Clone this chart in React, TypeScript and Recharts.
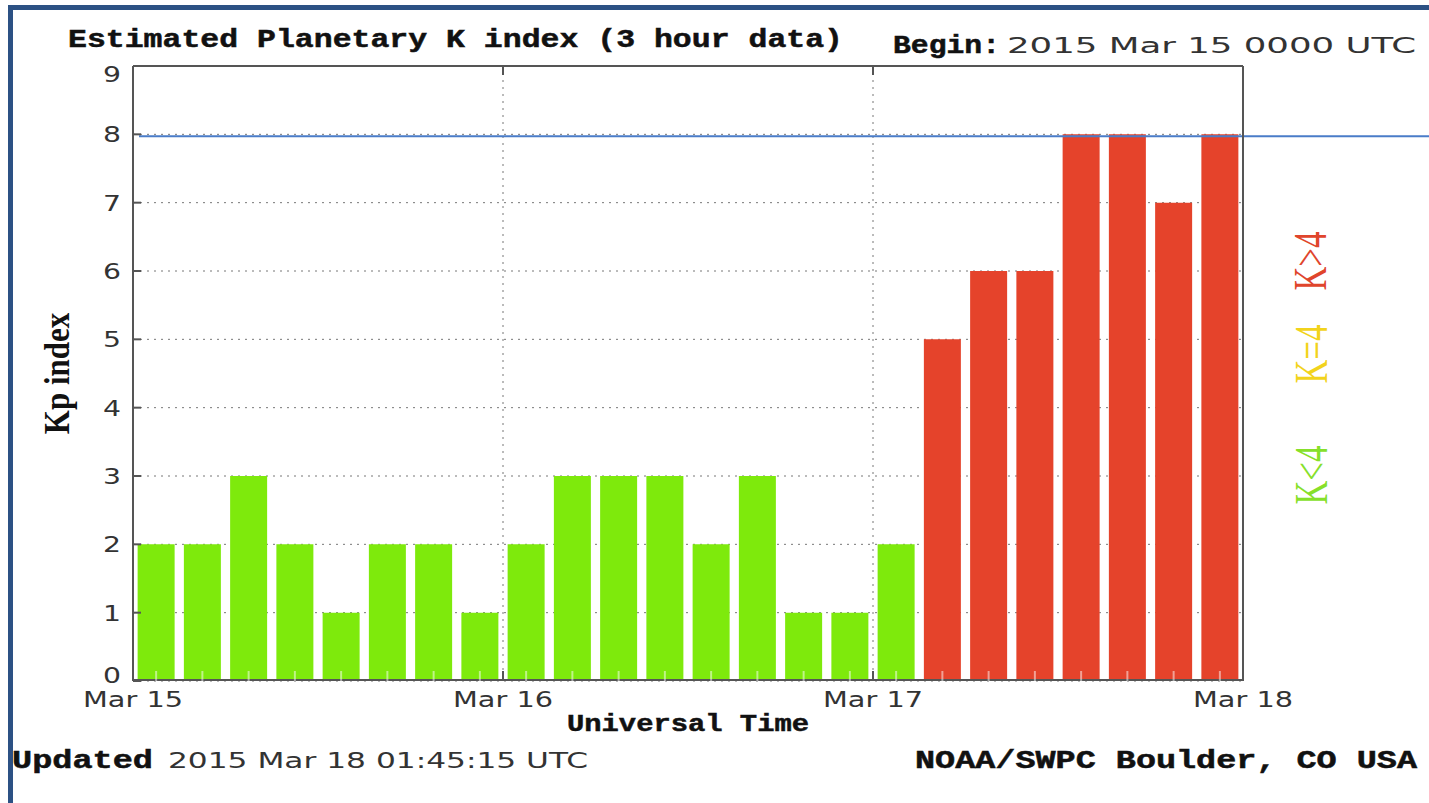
import React from 'react';
import { BarChart, Bar, Cell, XAxis, YAxis, CartesianGrid, ReferenceLine } from 'recharts';

const CHART_W = 1429;
const CHART_H = 803;

// 3-hour slots, 2015 Mar 15 00 UTC .. Mar 17 21 UTC
const slots = [
    '15/00', '15/03', '15/06', '15/09', '15/12', '15/15', '15/18', '15/21',
    '16/00', '16/03', '16/06', '16/09', '16/12', '16/15', '16/18', '16/21',
    '17/00', '17/03', '17/06', '17/09', '17/12', '17/15', '17/18', '17/21',
];
const kpValues = [2, 2, 3, 2, 1, 2, 2, 1, 2, 3, 3, 3, 2, 3, 1, 1, 2, 5, 6, 6, 8, 8, 7, 8];
const dayHours = [0, 24, 48, 72];
const dayLabels = ['Mar 15', 'Mar 16', 'Mar 17', 'Mar 18'];
const kpTicks = [0, 1, 2, 3, 4, 5, 6, 7, 8, 9];
const stormLevel = 8;

const GREEN = '#7EEA0C';
const YELLOW = '#F2D31C';
const RED = '#E5432B';
const AXIS = '#555';
const MONO = "'Liberation Mono', 'DejaVu Sans Mono', monospace";
const SANS = "'DejaVu Sans', sans-serif";
const SERIF = "'Liberation Serif', 'DejaVu Serif', serif";

// inward tick lengths (axes are mirrored so the ticks point into the frame)
const Y_TICK = 8;
const X_TICK = 9;
const MINOR_TICK = 10;

const data = slots.map((slot, i) => ({ slot, hour: i * 3, kp: kpValues[i] }));

const kpColor = (v: number) => (v > 4 ? RED : v === 4 ? YELLOW : GREEN);

// tick marks are drawn by the tick components themselves
const KpTick = ({ x, y, payload }: any) => {
    const v = payload.value;
    // end labels are pulled inside the frame
    const nudge = v === 9 ? 8 : v === 0 ? -6 : 0;
    return (
        <g>
            <line x1={x - Y_TICK} x2={x} y1={y} y2={y} stroke={AXIS} strokeWidth={2} />
            <text x={x - Y_TICK - 12} y={y + nudge + 8} textAnchor="end" fontFamily={SANS} fontSize={21}
                fill="#333" textLength={18} lengthAdjust="spacingAndGlyphs">
                {v}
            </text>
        </g>
    );
};

const RightTick = ({ x, y }: any) => (
    <line x1={x} x2={x + Y_TICK} y1={y} y2={y} stroke={AXIS} strokeWidth={2} />
);

const DayTick = ({ x, y, payload }: any) => (
    <g>
        {payload.value > 0 && payload.value < 72 && (
            <line x1={x} x2={x} y1={y} y2={y + X_TICK} stroke={AXIS} strokeWidth={2} />
        )}
        <text x={x} y={y + X_TICK + 27} textAnchor="middle" fontFamily={SANS} fontSize={21} fill="#333"
            textLength={100} lengthAdjust="spacingAndGlyphs">
            {dayLabels[dayHours.indexOf(payload.value)]}
        </text>
    </g>
);

const TopTick = ({ x, y }: any) => (
    <line x1={x} x2={x} y1={y - X_TICK} y2={y} stroke={AXIS} strokeWidth={2} />
);

const SlotTick = ({ x, y }: any) => (
    <line x1={x} x2={x} y1={y} y2={y + MINOR_TICK} stroke="rgba(255,255,255,0.5)" strokeWidth={2} />
);

const TimeLabel = ({ viewBox }: any) => (
    <text x={viewBox.x + viewBox.width / 2} y={viewBox.y + 52} textAnchor="middle" fontFamily={MONO}
        fontWeight="bold" fontSize={24} fill="#111" stroke="#111" strokeWidth={0.5}
        textLength={242} lengthAdjust="spacingAndGlyphs">
        Universal Time
    </text>
);

const KpLabel = ({ viewBox }: any) => (
    <text transform={`translate(57,${viewBox.y + viewBox.height / 2}) scale(1.15,1) rotate(-90)`}
        textAnchor="middle" dominantBaseline="central" fontFamily={SERIF} fontWeight="bold"
        fontSize={31} fill="#111">
        Kp index
    </text>
);

// the blue marker line runs on past the frame to the page edge
const StormLine = (props: any) => (
    <line x1={props.x1 + 6} y1={props.y1 + 2} x2={CHART_W} y2={props.y2 + 2} stroke="#4A7CC8" strokeWidth={2} />
);

const Rotated = ({ x, y, color, children }: any) => (
    <text transform={`translate(${x},${y}) scale(1.4,1) rotate(-90)`} textAnchor="middle"
        dominantBaseline="central" fontFamily={SERIF} fontSize={33} fill={color}>
        {children}
    </text>
);

const Caption = ({ x, y, w, bold, children }: any) => (
    <text x={x} y={y} fontFamily={bold ? MONO : SANS} fontWeight={bold ? 'bold' : 'normal'}
        fontSize={bold ? 25 : 21} fill={bold ? '#111' : '#333'} stroke={bold ? '#111' : 'none'}
        strokeWidth={bold ? 0.5 : 0} textLength={w} lengthAdjust="spacingAndGlyphs">
        {children}
    </text>
);

export default function App() {
    return (
        <div style={{ position: 'absolute', left: 0, top: 0, width: CHART_W, height: CHART_H, background: '#fff' }}>
            <BarChart width={CHART_W} height={CHART_H} data={data} barCategoryGap="10%"
                margin={{ top: 66, right: 186, bottom: 122, left: 133 }}>
                <CartesianGrid xAxisId="time" yAxisId="left" stroke="#777" strokeDasharray="2 5" />
                <Bar dataKey="kp" xAxisId="cat" yAxisId="left" isAnimationActive={false}>
                    {data.map((d) => (
                        <Cell key={d.slot} fill={kpColor(d.kp)} />
                    ))}
                </Bar>
                <ReferenceLine y={stormLevel} xAxisId="cat" yAxisId="left" shape={StormLine} />
                <XAxis xAxisId="time" dataKey="hour" type="number" domain={[0, 72]} ticks={dayHours}
                    height={1} mirror tick={DayTick} tickLine={false} tickSize={X_TICK} tickMargin={0}
                    axisLine={{ stroke: AXIS, strokeWidth: 2 }} label={{ content: TimeLabel }} />
                <XAxis xAxisId="cat" dataKey="slot" height={1} mirror tick={SlotTick} tickLine={false}
                    axisLine={false} tickSize={MINOR_TICK} tickMargin={0} />
                <XAxis xAxisId="top" orientation="top" dataKey="hour" type="number" domain={[0, 72]}
                    ticks={[24, 48]} height={1} mirror tick={TopTick} tickLine={false} tickSize={X_TICK}
                    tickMargin={0} axisLine={{ stroke: AXIS, strokeWidth: 2 }} />
                <YAxis yAxisId="left" domain={[0, 9]} ticks={kpTicks} width={1} mirror tick={KpTick}
                    tickLine={false} tickSize={Y_TICK} tickMargin={0}
                    axisLine={{ stroke: AXIS, strokeWidth: 2 }} label={{ content: KpLabel }} />
                <YAxis yAxisId="right" orientation="right" domain={[0, 9]} ticks={kpTicks} width={1}
                    mirror tick={RightTick} tickLine={false} tickSize={Y_TICK} tickMargin={0}
                    axisLine={{ stroke: AXIS, strokeWidth: 2 }} />
            </BarChart>
            <svg width={CHART_W} height={CHART_H} style={{ position: 'absolute', left: 0, top: 0, pointerEvents: 'none' }}>
                <Caption x={68} y={47} w={775} bold>Estimated Planetary K index (3 hour data)</Caption>
                <Caption x={893} y={53} w={107} bold>Begin:</Caption>
                <Caption x={1007} y={53} w={409}>2015 Mar 15 0000 UTC</Caption>
                <Caption x={12} y={768} w={141} bold>Updated</Caption>
                <Caption x={168} y={768} w={420}>2015 Mar 18 01:45:15 UTC</Caption>
                <Caption x={915} y={768} w={502} bold>NOAA/SWPC Boulder, CO USA</Caption>
                <Rotated x={1310} y={261} color="#E0452C">K&gt;4</Rotated>
                <Rotated x={1311} y={354} color={YELLOW}>K=4</Rotated>
                <Rotated x={1311} y={475} color="#86E02A">K&lt;4</Rotated>
            </svg>
            <div style={{
                position: 'absolute', left: 8, top: 5, width: CHART_W - 8, height: CHART_H - 5,
                borderTop: '5px solid #2C5184', borderLeft: '5px solid #2C5184', boxSizing: 'border-box',
                pointerEvents: 'none',
            }} />
        </div>
    );
}
